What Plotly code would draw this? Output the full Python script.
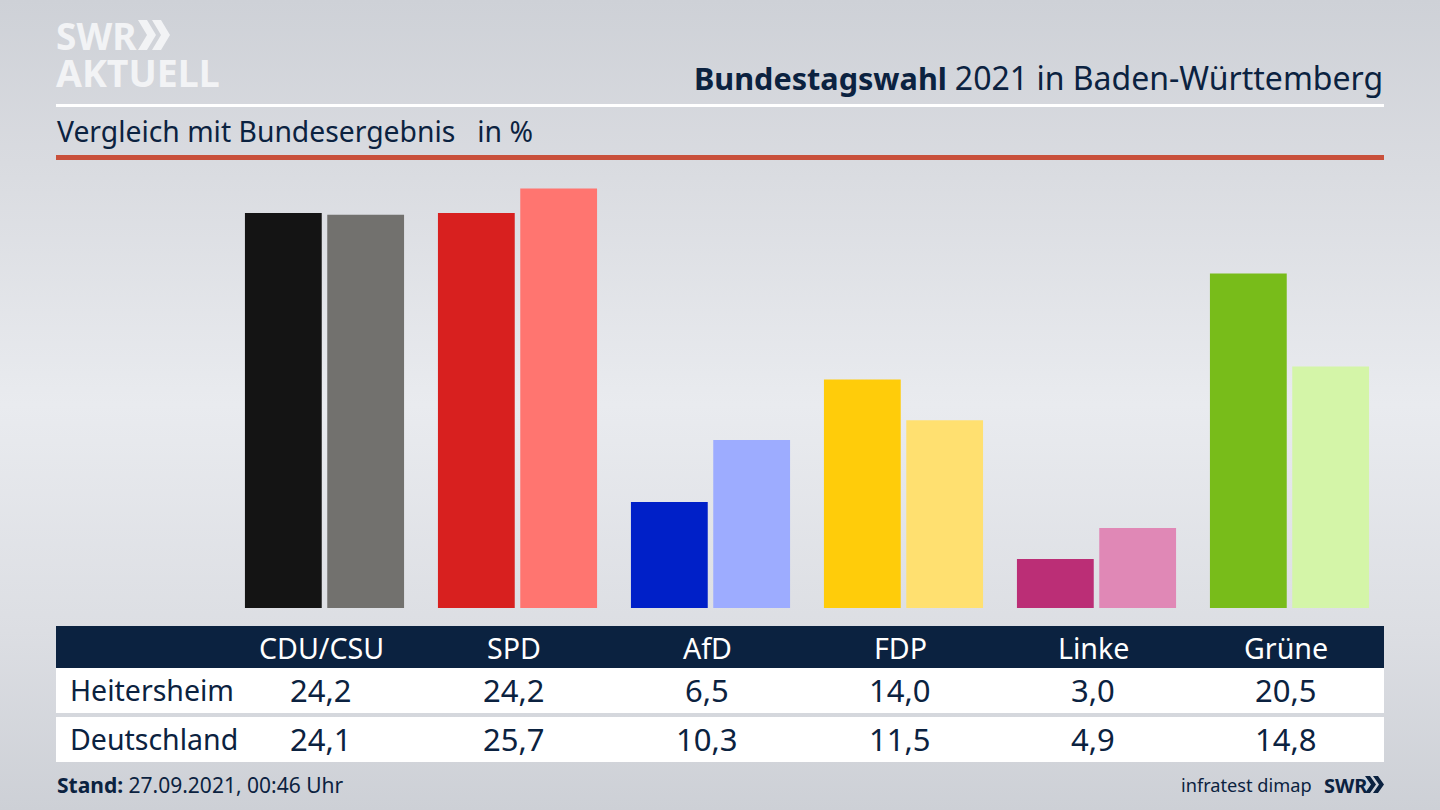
import urllib.parse
import plotly.graph_objects as go

FONT = "Noto Sans"
NAVY = "#0b2240"
W, H = 1440, 810

parties = ["CDU/CSU", "SPD", "AfD", "FDP", "Linke", "Grüne"]
heitersheim = [24.2, 24.2, 6.5, 14.0, 3.0, 20.5]
deutschland = [24.1, 25.7, 10.3, 11.5, 4.9, 14.8]
colors_local = ["#141414", "#d8201f", "#0020c8", "#ffcc0a", "#bb2e76", "#78bc1a"]
colors_federal = ["#72716e", "#ff7570", "#9dacff", "#ffe070", "#e088b6", "#d4f5a8"]
row_names = ["Heitersheim", "Deutschland"]


def px(x):
    return x / W


def py(y):
    return 1 - y / H


def de(v):
    return f"{v:.1f}".replace(".", ",")


def rect(x0, y0, x1, y1, color):
    return dict(type="rect", xref="paper", yref="paper", x0=px(x0), x1=px(x1),
                y0=py(y0), y1=py(y1), fillcolor=color, line_width=0, layer="below")


def chevrons(x, top, bottom, w, t, gap, color):
    # the two arrows of the SWR logo
    mid = (top + bottom) / 2
    out = []
    for i in range(2):
        x0 = x + i * gap
        pts = [(x0, top), (x0 + t, top), (x0 + w, mid), (x0 + t, bottom), (x0, bottom), (x0 + w - t, mid)]
        path = "M" + " L".join(f"{px(a):.5f},{py(b):.5f}" for a, b in pts) + " Z"
        out.append(dict(type="path", xref="paper", yref="paper", path=path,
                        fillcolor=color, line_width=0))
    return out


def label(x, y, text, size, color=NAVY, anchor="left", xref="paper", **kw):
    return dict(x=px(x) if xref == "paper" else x, y=py(y), xref=xref, yref="paper", text=text,
                showarrow=False, xanchor=anchor, yanchor="middle",
                font=dict(family=FONT, size=size, color=color), **kw)


fig = go.Figure()
fig.add_bar(x=list(range(6)), y=heitersheim, marker=dict(color=colors_local, line_width=0), name="Heitersheim")
fig.add_bar(x=list(range(6)), y=deutschland, marker=dict(color=colors_federal, line_width=0), name="Deutschland")

shapes = [
    rect(56, 104, 1384, 107, "#ffffff"),
    rect(56, 155, 1384, 160, "#c9503b"),
    rect(56, 626, 1384, 668, NAVY),
    rect(56, 668, 1384, 713, "#ffffff"),
    rect(56, 717, 1384, 762, "#ffffff"),
]
shapes += chevrons(138, 20, 50, 18, 9, 14, "#f2f3f5")
shapes += chevrons(1365, 776, 793, 11, 5, 8, NAVY)

# logo as one text, line spacing comes from the small base size
logo = ('<span style="font-size:37px"><b>SWR</b></span><br>'
        '<span style="font-size:37.5px"><b>AKTUELL</b></span>')
title = ('<b>Bundestagswahl</b> <span style="font-size:32px">2021 in Baden-Württemberg</span>')
annotations = [
    label(54, 54, logo, 28.5, "#f2f3f5", align="left"),
    label(1385, 77, title, 30.6, anchor="right"),
    label(55, 131, "Vergleich mit Bundesergebnis   in %", 28.3),
    label(55, 785, "<b>Stand:</b> 27.09.2021, 00:46 Uhr", 21),
    label(1314, 785, "infratest dimap", 18.2, anchor="right"),
    label(1322, 785, "<b>SWR</b>", 20),
]
for i, name in enumerate(row_names):
    annotations.append(label(68, 690 + i * 49, name, 28.5))
for i, p in enumerate(parties):
    annotations.append(label(i, 647, p, 28.6, "#ffffff", "center", "x", xshift=-3.5))
    annotations.append(label(i, 690, de(heitersheim[i]), 31, anchor="center", xref="x", xshift=-3.5))
    annotations.append(label(i, 739, de(deutschland[i]), 31, anchor="center", xref="x", xshift=-3.5))

# soft grey background of the broadcast graphic
svg = (
    '<svg xmlns="http://www.w3.org/2000/svg" width="1440" height="810" preserveAspectRatio="none">'
    '<defs><linearGradient id="g" x1="0" y1="0" x2="0" y2="1">'
    '<stop offset="0" stop-color="#ced1d7"/><stop offset="0.2" stop-color="#d9dbe0"/>'
    '<stop offset="0.5" stop-color="#e9ebef"/><stop offset="0.78" stop-color="#dcdee3"/>'
    '<stop offset="1" stop-color="#cdd0d6"/></linearGradient></defs>'
    '<rect width="1440" height="810" fill="url(#g)"/></svg>'
)
bg = "data:image/svg+xml," + urllib.parse.quote(svg)

fig.update_layout(
    width=W, height=H, autosize=False,
    margin=dict(l=0, r=0, t=0, b=0),
    paper_bgcolor="#dfe0e5", plot_bgcolor="rgba(0,0,0,0)",
    showlegend=False, barmode="group", bargap=0.147, bargroupgap=0.067,
    xaxis=dict(domain=[px(228), px(1386)], range=[-0.5, 5.5], visible=False),
    yaxis=dict(domain=[py(608), py(183.7)], range=[0, 26], visible=False),
    shapes=shapes, annotations=annotations,
    images=[dict(source=bg, xref="paper", yref="paper", x=0, y=1, sizex=1, sizey=1,
                 sizing="stretch", xanchor="left", yanchor="top", layer="below")],
)
fig.write_html("out.html", config=dict(displayModeBar=False),
               post_script="document.body.style.margin='0';")
